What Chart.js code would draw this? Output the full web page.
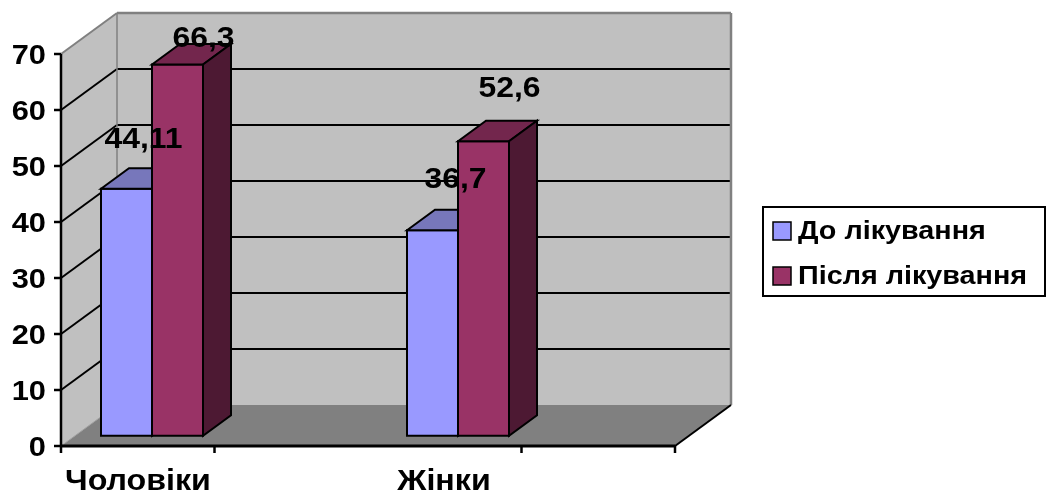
<!DOCTYPE html>
<html>
<head>
<meta charset="utf-8">
<script src="https://cdn.jsdelivr.net/npm/chart.js@4.4.1/dist/chart.umd.min.js"></script>
<style>
  html, body { margin: 0; padding: 0; background: #ffffff; }
  #wrap { width: 1047px; height: 494px; }
</style>
</head>
<body>
<div id="wrap"><canvas id="chart" width="1047" height="494"></canvas></div>
<script>
// Chart data
const categories = ['Чоловіки', 'Жінки'];
const seriesNames = ['До лікування', 'Після лікування'];
const beforeTreatment = [44.11, 36.7];
const afterTreatment = [66.3, 52.6];
const yTicks = [0, 10, 20, 30, 40, 50, 60, 70];

const FONT = '"Liberation Sans", Arial, Helvetica, sans-serif';

// Face colours for each series: front, top, side
const palette = [
  { front: '#9999ff', top: '#7777bb', side: '#5c5c99' },
  { front: '#993366', top: '#73264d', side: '#4d1933' }
];

// Oblique depth vector of the full floor/wall box
const DEPTH = { dx: 56, dy: -41 };
// Bars sit between 25% and 75% of the depth
const BAR_NEAR = 0.25, BAR_DEPTH = 0.5;

function poly(ctx, pts, fill, stroke, lw) {
  ctx.beginPath();
  ctx.moveTo(pts[0][0], pts[0][1]);
  for (let i = 1; i < pts.length; i++) ctx.lineTo(pts[i][0], pts[i][1]);
  ctx.closePath();
  if (fill) { ctx.fillStyle = fill; ctx.fill(); }
  if (stroke) { ctx.strokeStyle = stroke; ctx.lineWidth = lw || 1; ctx.stroke(); }
}
function line(ctx, x1, y1, x2, y2, color, lw) {
  ctx.beginPath();
  ctx.moveTo(x1, y1);
  ctx.lineTo(x2, y2);
  ctx.strokeStyle = color;
  ctx.lineWidth = lw;
  ctx.stroke();
}
// text with a slight horizontal stretch, like the wide bold face of the original chart
function text(ctx, str, x, y, size, align, baseline, sx) {
  ctx.save();
  ctx.font = 'bold ' + size + 'px ' + FONT;
  ctx.textAlign = align;
  ctx.textBaseline = baseline;
  ctx.fillStyle = '#000000';
  ctx.translate(x, y);
  ctx.scale(sx, 1);
  ctx.fillText(str, 0, 0);
  ctx.restore();
}
function fmt(v) { return String(v).replace('.', ','); }

const box3d = {
  id: 'box3d',
  beforeDraw(chart) {
    const ctx = chart.ctx;
    const { left, right, top, bottom } = chart.chartArea;
    const ys = chart.scales.y;
    const { dx, dy } = DEPTH;
    ctx.save();
    ctx.fillStyle = '#ffffff';
    ctx.fillRect(0, 0, chart.width, chart.height);

    // side wall, back wall and floor
    poly(ctx, [[left, top], [left + dx, top + dy], [left + dx, bottom + dy], [left, bottom]], '#c0c0c0');
    poly(ctx, [[left + dx, top + dy], [right + dx, top + dy], [right + dx, bottom + dy], [left + dx, bottom + dy]], '#c0c0c0');
    poly(ctx, [[left, bottom], [right, bottom], [right + dx, bottom + dy], [left + dx, bottom + dy]], '#808080');

    // gridlines on both walls
    yTicks.forEach(v => {
      if (v === 0 || v === yTicks[yTicks.length - 1]) return;
      const y = ys.getPixelForValue(v);
      line(ctx, left, y, left + dx, y + dy, '#000000', 2);
      line(ctx, left + dx, y + dy, right + dx, y + dy, '#000000', 2);
    });

    // wall edges
    line(ctx, left, top, left + dx, top + dy, '#808080', 2);
    line(ctx, left + dx, top + dy, right + dx, top + dy, '#808080', 2.5);
    line(ctx, right + dx, top + dy, right + dx, bottom + dy, '#808080', 2.5);
    line(ctx, left + dx, top + dy, left + dx, bottom + dy, '#808080', 1.5);
    line(ctx, left, bottom, left + dx, bottom + dy, '#a0a0a0', 1);
    line(ctx, right, bottom, right + dx, bottom + dy, '#000000', 2);

    // value axis with tick marks and labels
    line(ctx, left, top, left, bottom + 1, '#000000', 2.5);
    yTicks.forEach(v => {
      const y = ys.getPixelForValue(v);
      line(ctx, left - 7, y, left, y, '#000000', 2.5);
      text(ctx, String(v), left - 15, y + 2, 28, 'right', 'middle', 1.1);
    });

    // category axis with tick marks and labels
    line(ctx, left - 1, bottom, right, bottom, '#000000', 3);
    const w = right - left;
    [0, 0.25, 0.75, 1].forEach(f => {
      const x = left + w * f;
      line(ctx, x, bottom, x, bottom + 7, '#000000', 2.5);
    });
    const xs = chart.scales.x;
    categories.forEach((c, i) => {
      text(ctx, c, xs.getPixelForValue(i), bottom + 44, 29, 'center', 'alphabetic', 1.11);
    });
    ctx.restore();
  },
  beforeDatasetDraw() {
    return false; // bars are drawn as boxes below
  },
  afterDatasetsDraw(chart, args, opts) {
    const ctx = chart.ctx;
    const { dx, dy } = DEPTH;
    const nx = dx * BAR_NEAR, ny = dy * BAR_NEAR;
    const bx = dx * BAR_DEPTH, by = dy * BAR_DEPTH;
    ctx.save();
    ctx.lineJoin = 'miter';
    const n = chart.data.labels.length;
    for (let i = 0; i < n; i++) {
      chart.data.datasets.forEach((ds, d) => {
        const el = chart.getDatasetMeta(d).data[i];
        const p = el.getProps(['x', 'y', 'base', 'width'], true);
        const l = p.x - p.width / 2 + nx, r = p.x + p.width / 2 + nx;
        const t = p.y + ny, b = p.base + ny;
        const c = palette[d];
        poly(ctx, [[l, t], [r, t], [r, b], [l, b]], c.front, '#000000', 2);
        poly(ctx, [[l, t], [l + bx, t + by], [r + bx, t + by], [r, t]], c.top, '#000000', 2);
        poly(ctx, [[r, t], [r + bx, t + by], [r + bx, b + by], [r, b]], c.side, '#000000', 2);
      });
    }
    // value labels
    chart.data.datasets.forEach((ds, d) => {
      chart.getDatasetMeta(d).data.forEach((el, i) => {
        const p = el.getProps(['x', 'y'], true);
        const off = opts.labelShift[d][i];
        text(ctx, fmt(ds.data[i].y), p.x + off[0], p.y + off[1], 29, 'center', 'alphabetic', 1.1);
      });
    });
    ctx.restore();
  },
  afterDraw(chart, args, opts) {
    const ctx = chart.ctx;
    const L = opts.legend;
    ctx.save();
    ctx.fillStyle = '#ffffff';
    ctx.fillRect(L.x, L.y, L.w, L.h);
    ctx.strokeStyle = '#000000';
    ctx.lineWidth = 2;
    ctx.strokeRect(L.x, L.y, L.w, L.h);
    chart.data.datasets.forEach((ds, d) => {
      const cy = L.y + L.rowTop + d * L.rowGap;
      ctx.fillStyle = ds.backgroundColor;
      ctx.fillRect(L.x + 10, cy - 9, 18, 18);
      ctx.lineWidth = 1.5;
      ctx.strokeStyle = '#000000';
      ctx.strokeRect(L.x + 10, cy - 9, 18, 18);
      text(ctx, ds.label, L.x + 35, cy + 1, 25, 'left', 'middle', 1.15);
    });
    ctx.restore();
  }
};

const step = 306; // px between category groups at the axis
new Chart(document.getElementById('chart'), {
  type: 'bar',
  data: {
    labels: categories,
    datasets: [
      { label: seriesNames[0], data: beforeTreatment.map((v, i) => ({ x: i, y: v })), backgroundColor: palette[0].front },
      { label: seriesNames[1], data: afterTreatment.map((v, i) => ({ x: i, y: v })), backgroundColor: palette[1].front }
    ]
  },
  options: {
    responsive: false,
    animation: false,
    devicePixelRatio: 1,
    layout: { padding: { left: 61, right: 372, top: 54, bottom: 48 } },
    datasets: { bar: { barThickness: 51 } },
    scales: {
      x: { type: 'linear', display: false, offset: false, min: -77 / step, max: 537 / step },
      y: { type: 'linear', display: false, min: 0, max: 70 }
    },
    plugins: {
      legend: { display: false },
      tooltip: { enabled: false },
      box3d: {
        labelShift: [[[31, -51], [37, -52]], [[40, -28], [40, -54]]],
        legend: { x: 763, y: 207, w: 282, h: 89, rowTop: 24, rowGap: 45 }
      }
    }
  },
  plugins: [box3d]
});
</script>
</body>
</html>
